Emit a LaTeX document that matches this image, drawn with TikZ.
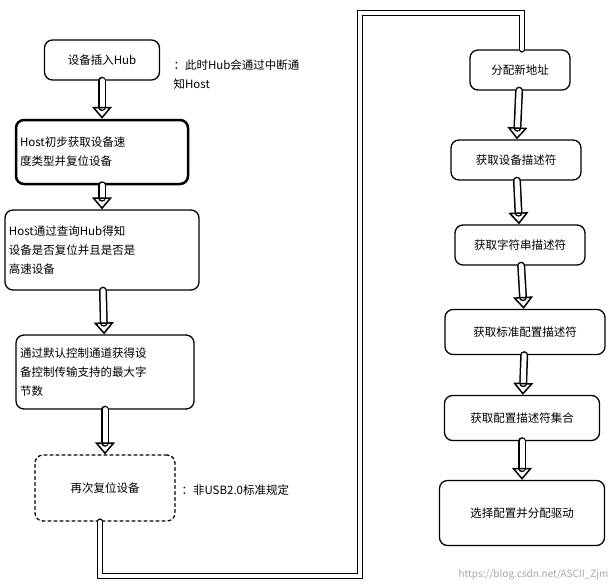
\documentclass[tikz,border=0pt]{standalone}
\usepackage{fontspec}
\setmainfont{Noto Sans CJK SC}
\usetikzlibrary{arrows.meta,positioning}
\begin{document}
\begin{tikzpicture}
[x=1pt,y=-1pt,line cap=round,font=\fontsize{11.5}{19}\selectfont,
stage/.style={draw,rounded corners=8pt,line width=1.3pt,align=left,inner sep=4pt},
flow/.style={double,double distance=5pt,line width=1.5pt,-{Triangle[open,width=20pt,length=12pt,line width=1.5pt]}},
link/.style={double,double distance=3.5pt,line width=1.5pt},
note/.style={align=left,anchor=west}]
\useasboundingbox (0,0) rectangle (616,587);
% Left column
\node[stage,minimum width=115,minimum height=40] (plug) at (102,60) {设备插入Hub};
\node[note] (plugnote) at (170,75) {：此时Hub会通过中断通\\知Host};
\node[stage,line width=2.5pt,text width=164,minimum height=64] (first) at (102,152) {Host初步获取设备速\\度类型并复位设备};
\node[stage,text width=186,minimum height=80] (query) at (102,250) {Host通过查询Hub得知\\设备是否复位并且是否是\\高速设备};
\node[stage,text width=170,minimum height=74] (maxpk) at (105,372) {通过默认控制通道获得设\\备控制传输支持的最大字\\节数};
\node[stage,dashed,minimum width=140,minimum height=66] (reset) at (105,488) {再次复位设备};
\node[note] (resetnote) at (178,490) {：非USB2.0标准规定};
% Right column
\node[stage,minimum width=100,minimum height=40] (addr) at (520,70) {分配新地址};
\node[stage,minimum width=130,minimum height=40] (devdesc) at (516,160) {获取设备描述符};
\node[stage,minimum width=130,minimum height=40] (strdesc) at (520,245) {获取字符串描述符};
\node[stage,minimum width=160,minimum height=45] (stddesc) at (525,332) {获取标准配置描述符};
\node[stage,minimum width=155,minimum height=45] (cfgset) at (522,418) {获取配置描述符集合};
\node[stage,minimum width=165,minimum height=65] (select) at (522,513) {选择配置并分配驱动};
% Arrows
\draw[flow] (plug) -- (first);
\draw[flow] (first) -- (query);
\draw[flow] (query) -- (maxpk);
\draw[flow] (maxpk) -- (reset);
\draw[flow] (addr) -- (devdesc);
\draw[flow] (devdesc) -- (strdesc);
\draw[flow] (strdesc) -- (stddesc);
\draw[flow] (stddesc) -- (cfgset);
\draw[flow] (cfgset) -- (select);
\coordinate (c1) at (100,576);
\coordinate (c2) at (360,576);
\coordinate (c3) at (360,13);
\coordinate (c4) at (522,13);
\draw[link] (reset.south -| c1) -- (c1) -- (c2) -- (c3) -- (c4) -- (c4 |- addr.north);
\node[text=gray!70,font=\fontsize{10}{12}\selectfont,anchor=south east] (mark) at (612,584) {https://blog.csdn.net/ASCII\_Zjm};
\end{tikzpicture}
\end{document}
